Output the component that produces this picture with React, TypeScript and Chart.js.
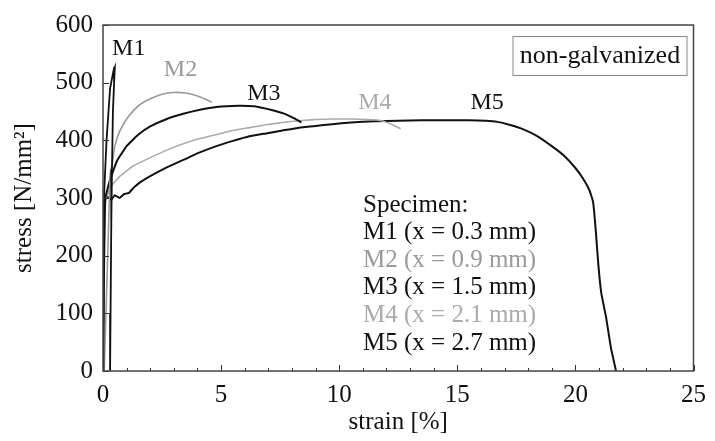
import React, { useEffect, useRef } from "react";
import { Chart, registerables } from "chart.js";

Chart.register(...registerables);

const FONT = '"Liberation Serif", "Times New Roman", serif';

// axis ticks
const xTickValues = [0, 5, 10, 15, 20, 25];
const yTickValues = [0, 100, 200, 300, 400, 500, 600];

// series: strain [%] and stress [N/mm²]
const m1Strain = [0, 0.02, 0.05, 0.15, 0.3, 0.45, 0.5, 0.47, 0.42, 0.38, 0.35, 0.32, 0.3];
const m1Stress = [0, 200, 310, 400, 490, 522, 527, 500, 450, 350, 250, 100, 0];

const m2Strain = [0.05, 0.2, 0.3, 0.4, 0.5, 0.7, 1.0, 1.3, 1.6, 2.0, 2.5, 3.0, 3.5, 4.0, 4.3, 4.6];
const m2Stress = [0, 200, 340, 362, 390, 415, 437, 452, 463, 472, 480, 483, 482, 477, 472, 466];

const m3Strain = [0, 0.05, 0.1, 0.3, 0.6, 1.0, 1.5, 2.0, 2.7, 3.4, 4.1, 4.8, 5.75, 6.4, 6.9, 7.3, 7.7, 8.1, 8.4];
const m3Stress = [0, 200, 300, 332, 365, 390, 410, 424, 437, 446, 453, 458, 460, 459, 455, 451, 446, 438, 431];

const m4Strain = [0, 0.05, 0.1, 0.3, 0.7, 1.26, 2.0, 2.7, 3.4, 4.1, 4.8, 5.5, 6.2, 6.9, 7.6, 8.3, 9.0, 9.7, 10.5, 11.2, 11.8, 12.2, 12.6];
const m4Stress = [0, 200, 295, 318, 337, 355, 370, 383, 394, 403, 410, 417, 422, 427, 431, 434, 436, 437, 437, 436, 434, 428, 420];

const m5Strain = [0, 0.05, 0.2, 0.35, 0.5, 0.7, 0.9, 1.1, 1.3, 1.6, 2.0, 2.7, 3.4, 4.1, 4.8, 5.5, 6.2, 6.9, 7.6, 8.3, 9.0, 9.7, 10.5, 11.5, 12.5, 13.5, 14.5, 15.5, 16.2, 16.7, 17.2, 17.8, 18.4, 19.0, 19.5, 20.0, 20.3, 20.6, 20.75, 20.85, 20.97, 21.1, 21.3, 21.5, 21.72];
const m5Stress = [0, 295, 302, 297, 305, 300, 307, 309, 318, 328, 338, 353, 366, 379, 390, 399, 407, 412, 417, 422, 425, 428, 431, 433, 434, 435, 435, 435, 434, 432, 427, 419, 407, 390, 374, 352, 335, 313, 293, 250, 185, 134, 93, 41, 0];

const seriesNames = ["M1", "M2", "M3", "M4", "M5"];
const legendTitle = "Specimen:";
const legendLines = ["M1 (x = 0.3 mm)", "M2 (x = 0.9 mm)", "M3 (x = 1.5 mm)", "M4 (x = 2.1 mm)", "M5 (x = 2.7 mm)"];
const boxLabel = "non-galvanized";
// curve label anchors in data units [strain, stress]
const labelStrain = [1.09, 3.28, 6.81, 11.51, 16.26];
const labelStress = [559, 523, 480, 465, 465];

const colors = ["#111111", "#9a9a9a", "#111111", "#ababab", "#111111"];
const widths = [1.8, 1.6, 2, 1.6, 2];

const toPts = (xs: number[], ys: number[]) => xs.map((x, i) => ({ x, y: ys[i] }));

const decor = {
  id: "decor",
  afterDraw(chart: any) {
    const { ctx, chartArea: a, scales } = chart;
    const x = scales.x;
    const y = scales.y;
    ctx.save();
    // inward ticks
    ctx.strokeStyle = "#333";
    ctx.lineWidth = 1;
    ctx.beginPath();
    for (let v = 0; v <= 25; v += 1) {
      const px = Math.round(x.getPixelForValue(v)) + 0.5;
      const len = v % 5 === 0 ? 6 : 3;
      ctx.moveTo(px, a.bottom);
      ctx.lineTo(px, a.bottom - len);
    }
    for (const v of yTickValues) {
      const py = Math.round(y.getPixelForValue(v)) + 0.5;
      ctx.moveTo(a.left, py);
      ctx.lineTo(a.left + 6, py);
    }
    ctx.stroke();
    // frame
    ctx.strokeStyle = "#444";
    ctx.lineWidth = 1.5;
    ctx.strokeRect(a.left, a.top, a.right - a.left, a.bottom - a.top);

    // curve labels
    ctx.font = `24px ${FONT}`;
    ctx.textAlign = "center";
    ctx.textBaseline = "middle";
    seriesNames.forEach((n, i) => {
      ctx.fillStyle = colors[i];
      ctx.fillText(n, x.getPixelForValue(labelStrain[i]), y.getPixelForValue(labelStress[i]));
    });

    // legend text
    ctx.font = `25px ${FONT}`;
    ctx.textAlign = "left";
    const lx = a.left + 260;
    const ly = a.top + 180;
    ctx.fillStyle = "#111111";
    ctx.fillText(legendTitle, lx, ly);
    legendLines.forEach((t, i) => {
      ctx.fillStyle = colors[i];
      ctx.fillText(t, lx, ly + 27.6 * (i + 1));
    });

    // non-galvanized box
    ctx.strokeStyle = "#888";
    ctx.lineWidth = 1;
    const bx = a.right - 180.5;
    const by = a.top + 11.5;
    ctx.strokeRect(bx, by, 174, 39);
    ctx.fillStyle = "#111111";
    ctx.font = `26px ${FONT}`;
    ctx.textAlign = "center";
    ctx.fillText(boxLabel, bx + 87, by + 19.5);
    ctx.restore();
  },
};

export default function App() {
  const ref = useRef<HTMLCanvasElement | null>(null);
  useEffect(() => {
    if (!ref.current) return;
    const all = [
      [m1Strain, m1Stress],
      [m2Strain, m2Stress],
      [m3Strain, m3Stress],
      [m4Strain, m4Stress],
      [m5Strain, m5Stress],
    ];
    const chart = new Chart(ref.current, {
      type: "line",
      data: {
        datasets: all.map(([xs, ys], i) => ({
          label: seriesNames[i],
          data: toPts(xs, ys),
          borderColor: colors[i],
          borderWidth: widths[i],
          pointRadius: 0,
          tension: i === 0 ? 0 : 0.1,
          fill: false,
        })),
      },
      options: {
        responsive: false,
        animation: false,
        layout: { padding: { left: 0, top: 21, right: 17, bottom: 0 } },
        plugins: { legend: { display: false }, tooltip: { enabled: false } },
        scales: {
          x: {
            type: "linear",
            min: 0,
            max: 25,
            afterFit: (s: any) => { s.height = 70; },
            afterBuildTicks: (s: any) => { s.ticks = xTickValues.map((v) => ({ value: v })); },
            grid: { display: false, drawTicks: false },
            border: { display: false },
            ticks: { color: "#111", font: { family: FONT, size: 25 }, padding: 9, maxRotation: 0 },
            title: { display: true, text: "strain [%]", color: "#111", font: { family: FONT, size: 25 }, padding: { top: 0, bottom: 4 } },
          },
          y: {
            type: "linear",
            min: 0,
            max: 600,
            afterFit: (s: any) => { s.width = 103; },
            afterBuildTicks: (s: any) => { s.ticks = yTickValues.map((v) => ({ value: v })); },
            grid: { display: false, drawTicks: false },
            border: { display: false },
            ticks: { color: "#111", font: { family: FONT, size: 25 }, padding: 10 },
            title: { display: true, text: "stress [N/mm²]", color: "#111", font: { family: FONT, size: 25 }, padding: { top: 9, bottom: 0 } },
          },
        },
      },
      plugins: [decor],
    } as any);
    return () => chart.destroy();
  }, []);
  return (
    <div style={{ position: "fixed", left: 0, top: 0, width: 715, height: 441, background: "#fff" }}>
      <canvas ref={ref} width={715} height={441} style={{ display: "block" }} />
    </div>
  );
}
